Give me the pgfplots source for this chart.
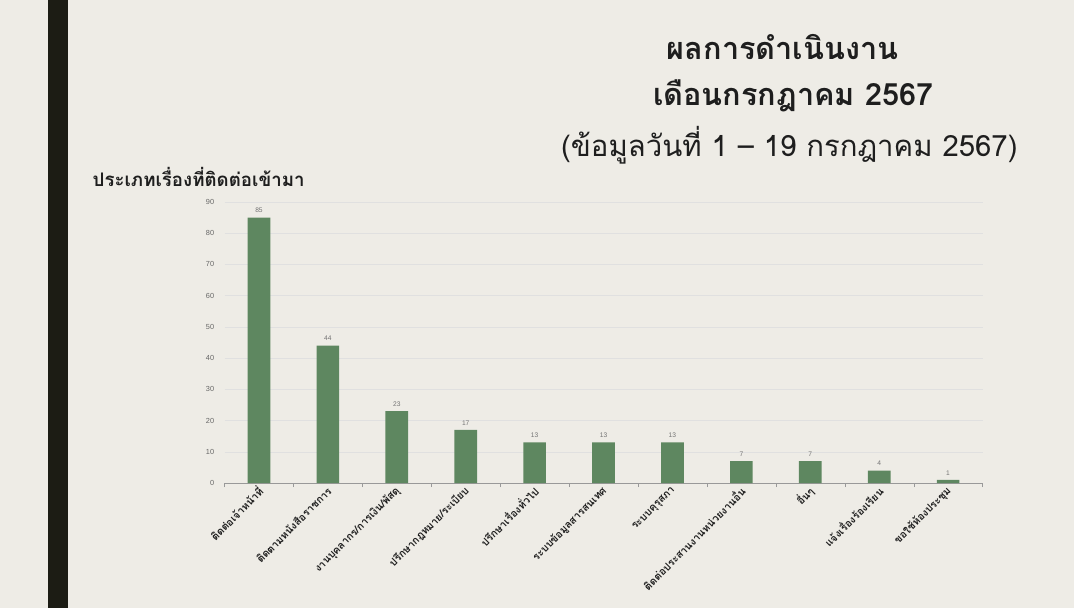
\documentclass[border=0pt]{standalone}
\usepackage{pgfplots}
\pgfplotsset{compat=1.18}
\usepackage{fontspec}
\newfontfamily\thaifont[Script=Thai]{Loma}
\newfontfamily\numfont{Liberation Sans}
\definecolor{bgcol}{RGB}{238,236,230}
\definecolor{barcol}{RGB}{94,135,96}
\definecolor{sidebar}{RGB}{28,28,20}
\definecolor{txtcol}{RGB}{30,30,30}

\begin{document}
\begin{tikzpicture}
% page 1074x608 px, 1px = 0.75pt
\fill[bgcol] (0,0) rectangle (805.5pt,-456pt);
\fill[sidebar] (36pt,0) rectangle (51pt,-456pt);

\node[font=\thaifont\bfseries\fontsize{23}{26}\selectfont, text=txtcol] at (587pt,-35pt) {ผลการดำเนินงาน};
\node[font=\thaifont\bfseries\fontsize{23}{26}\selectfont, text=txtcol] at (595pt,-72pt) {เดือนกรกฎาคม 2567};
\node[font=\thaifont\fontsize{22}{25}\selectfont, text=txtcol] at (592pt,-109pt) {(ข้อมูลวันที่ 1 – 19 กรกฎาคม 2567)};
\node[font=\thaifont\bfseries\fontsize{14}{16}\selectfont, text=txtcol, anchor=west] at (66pt,-133pt) {ประเภทเรื่องที่ติดต่อเข้ามา};

\begin{axis}[
    at={(168.4pt,-362.25pt)}, anchor=south west,
    scale only axis,
    width=568.5pt, height=210.75pt,
    xmin=-0.5, xmax=10.5,
    ymin=0, ymax=90,
    ybar, bar width=17pt,
    axis lines*=left,
    y axis line style={draw=none},
    x axis line style={draw=gray!80},
    ytick={0,10,...,90},
    ymajorgrids,
    grid style={draw=black!12},
    major y tick style={draw=none},
    /pgf/number format/assume math mode=true,
    y tick label style={font=\numfont\fontsize{5.5}{7}\selectfont, text=black!60},
    xtick={0,...,10},
    major x tick style={draw=none},
    minor xtick={-0.5,0.5,...,10.5},
    minor x tick style={draw=gray!80},
    minor tick length=3pt,
    tick align=outside,
    xticklabels={ติดต่อเจ้าหน้าที่, ติดตามหนังสือราชการ, งานบุคลากร/การเงิน/พัสดุ, ปรึกษากฎหมาย/ระเบียบ, ปรึกษาเรื่องทั่วไป, ระบบข้อมูลสารสนเทศ, ระบบคุรุสภา, ติดต่อประสานงานหน่วยงานอื่น, อื่นๆ, แจ้งเรื่องร้องเรียน, ขอใช้ห้องประชุม},
    x tick label style={font=\thaifont\bfseries\fontsize{7.8}{9}\selectfont, text=txtcol, rotate=45, anchor=east, xshift=4pt, yshift=-1pt},
    nodes near coords,
    every node near coord/.append style={font=\numfont\fontsize{5}{6}\selectfont, text=black!55},
]
\addplot[fill=barcol, draw=none] coordinates {
    (0,85) (1,44) (2,23) (3,17) (4,13) (5,13) (6,13) (7,7) (8,7) (9,4) (10,1)
};
\end{axis}

\pgfresetboundingbox
\useasboundingbox (0,0) rectangle (805.5pt,-456pt);
\end{tikzpicture}
\end{document}
